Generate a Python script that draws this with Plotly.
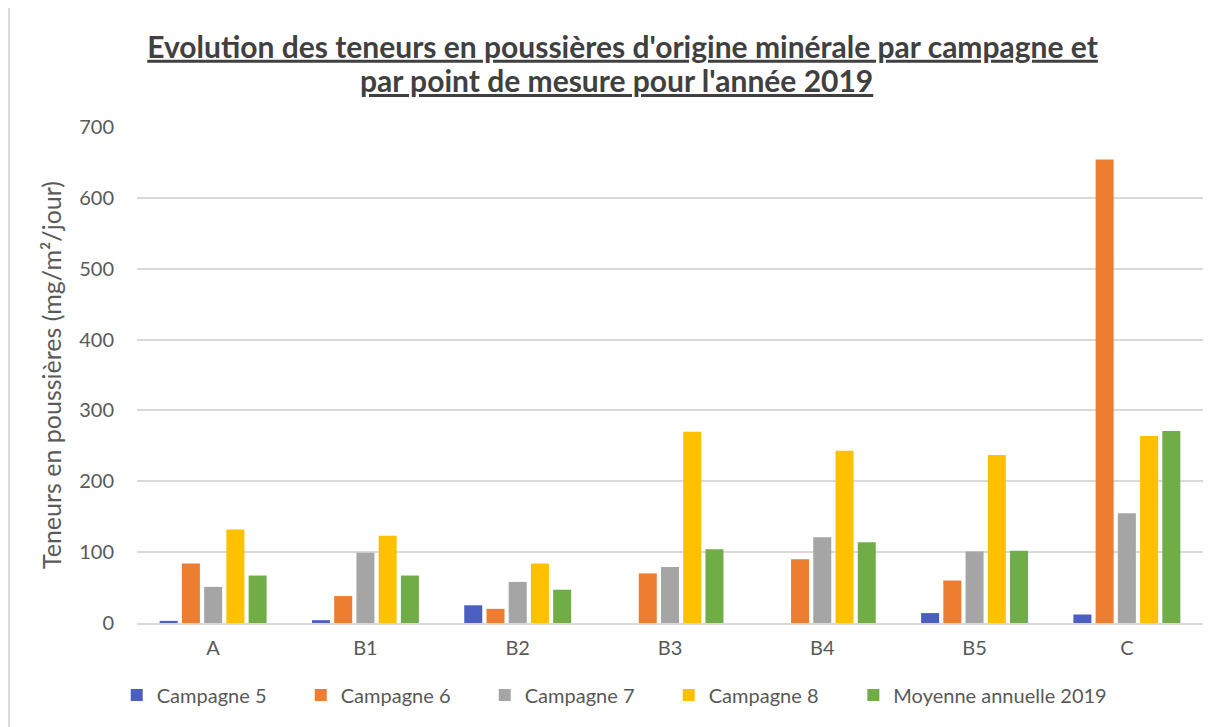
"""Poussières d'origine minérale 2019 — teneurs par campagne et point de mesure."""

import plotly.graph_objects as go

POINTS = ["A", "B1", "B2", "B3", "B4", "B5", "C"]

CAMPAGNE_5 = [3, 4, 25, 0, 0, 14, 12]
CAMPAGNE_6 = [84, 38, 20, 70, 90, 60, 654]
CAMPAGNE_7 = [51, 99, 58, 79, 121, 101, 155]
CAMPAGNE_8 = [132, 123, 84, 270, 243, 237, 264]
MOYENNE_2019 = [67, 67, 47, 104, 114, 102, 271]

# name, values, colour, legend it goes into (the long last label gets its own)
SERIES = [
    ("Campagne 5", CAMPAGNE_5, "#4A5FC1", "legend"),
    ("Campagne 6", CAMPAGNE_6, "#ED7D31", "legend"),
    ("Campagne 7", CAMPAGNE_7, "#A5A5A5", "legend"),
    ("Campagne 8", CAMPAGNE_8, "#FFC000", "legend"),
    ("Moyenne annuelle 2019", MOYENNE_2019, "#70AD47", "legend2"),
]

TITLE_1 = "Evolution des teneurs en poussières d'origine minérale par campagne et"
TITLE_2 = "par point de mesure pour l'année 2019"

FONT = "Lato, 'Noto Sans', sans-serif"
GREY = "#595959"
DARK = "#404040"

fig = go.Figure()
for name, vals, color, leg in SERIES:
    fig.add_bar(x=POINTS, y=vals, name=name, marker_color=color,
                marker_line_width=0, legend=leg)

legend_common = dict(orientation="h", xanchor="left", y=-0.106,
                     yanchor="top", font=dict(size=20, color=GREY),
                     itemwidth=30, tracegroupgap=0)

fig.update_layout(
    width=1217, height=727,
    # the page body adds 8px, so margins are trimmed accordingly
    margin=dict(l=129, r=22, t=119, b=112),
    paper_bgcolor="white", plot_bgcolor="white",
    font=dict(family=FONT, color=GREY, size=18),
    barmode="group", bargap=0.27, bargroupgap=0.19,
    title=dict(text=f"<b><u>{TITLE_1}</u></b>",
               x=0.505, xanchor="center", y=0.946, yanchor="middle",
               font=dict(size=30, color=DARK, family=FONT)),
    legend=dict(x=-0.019, entrywidth=139, entrywidthmode="pixels",
                **legend_common),
    legend2=dict(x=0.672, **legend_common),
    shapes=[dict(type="line", xref="paper", yref="paper",
                 x0=-0.12, x1=-0.12, y0=-0.25, y1=1.26,
                 line=dict(color="#D9D9D9", width=2))],
)
fig.add_annotation(text=f"<b><u>{TITLE_2}</u></b>", xref="paper",
                   yref="paper", x=0.45, y=1.095, xanchor="center",
                   yanchor="middle", showarrow=False,
                   font=dict(size=30, color=DARK, family=FONT))
fig.update_xaxes(showline=True, linecolor="#D9D9D9", linewidth=2,
                 ticks="", tickfont=dict(size=20, color=GREY),
                 ticklabelstandoff=6)
fig.update_yaxes(range=[0, 700], dtick=100, showgrid=True,
                 gridcolor="#D9D9D9", gridwidth=1.5, zeroline=False,
                 tickfont=dict(size=20, color=GREY), ticklabelstandoff=22,
                 title=dict(text="Teneurs en poussières (mg/m²/jour)",
                            font=dict(size=25, color=GREY), standoff=10))

fig.write_html("out.html")
